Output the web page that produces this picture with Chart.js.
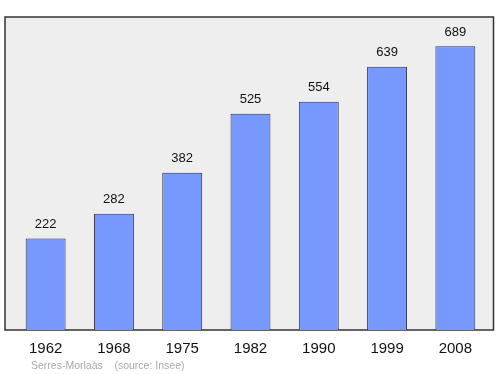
<!DOCTYPE html>
<html>
<head>
<meta charset="utf-8">
<script src="https://cdn.jsdelivr.net/npm/chart.js@4/dist/chart.umd.min.js"></script>
<style>
  html, body { margin: 0; padding: 0; background: #fff; }
  #wrap { width: 500px; height: 374px; }
</style>
</head>
<body>
<div id="wrap"><canvas id="grafik" width="500" height="374"></canvas></div>
<script>
const annees = ['1962', '1968', '1975', '1982', '1990', '1999', '2008'];
const population = [222, 282, 382, 525, 554, 639, 689];
const yMax = 760;
const piedTexte = 'Serres-Morlaàs    (source: Insee)';

// fond gris + cadre autour de la zone du graphique
const cadrePlugin = {
    id: 'cadre',
    beforeDraw(chart) {
        const c = chart.ctx;
        const a = chart.chartArea;
        c.save();
        c.fillStyle = '#eeeeee';
        c.fillRect(a.left - 6.5, a.top, a.right - a.left + 10.5, a.bottom - a.top);
        c.strokeStyle = '#333333';
        c.lineWidth = 1.5;
        c.strokeRect(a.left - 6.5, a.top, a.right - a.left + 10.5, a.bottom - a.top);
        c.restore();
    },
    afterDraw(chart) {
        const c = chart.ctx;
        c.save();
        // valeurs au-dessus des barres
        c.font = '13px "Liberation Sans", Arial, sans-serif';
        c.fillStyle = '#111';
        c.textAlign = 'center';
        c.textBaseline = 'middle';
        chart.getDatasetMeta(0).data.forEach((bar, i) => {
            c.fillText(population[i], bar.x, bar.y - 14);
        });
        // source
        c.font = '10.5px "Liberation Sans", Arial, sans-serif';
        c.fillStyle = '#aaaaaa';
        c.textAlign = 'left';
        c.fillText(piedTexte, 31, 366.5);
        c.restore();
    }
};

const ctx = document.getElementById('grafik').getContext('2d');
const grafik = new Chart(ctx, {
    type: 'bar',
    data: {
        labels: annees,
        datasets: [{
            data: population,
            backgroundColor: '#7799ff',
            borderColor: '#333344',
            borderWidth: 1,
            barPercentage: 0.585,
            categoryPercentage: 1
        }]
    },
    options: {
        responsive: false,
        animation: false,
        layout: { padding: { left: 11.5, right: 10.5, top: 17, bottom: 0 } },
        plugins: {
            legend: { display: false },
            tooltip: { enabled: false }
        },
        scales: {
            x: {
                grid: { display: false, tickLength: 0 },
                border: { display: false },
                ticks: {
                    color: '#111',
                    font: { family: '"Liberation Sans", Arial, sans-serif', size: 15 },
                    padding: 10
                },
                afterFit(axis) { axis.height = 44; }
            },
            y: {
                display: false,
                min: 0,
                max: yMax
            }
        }
    },
    plugins: [cadrePlugin]
});
</script>
</body>
</html>
